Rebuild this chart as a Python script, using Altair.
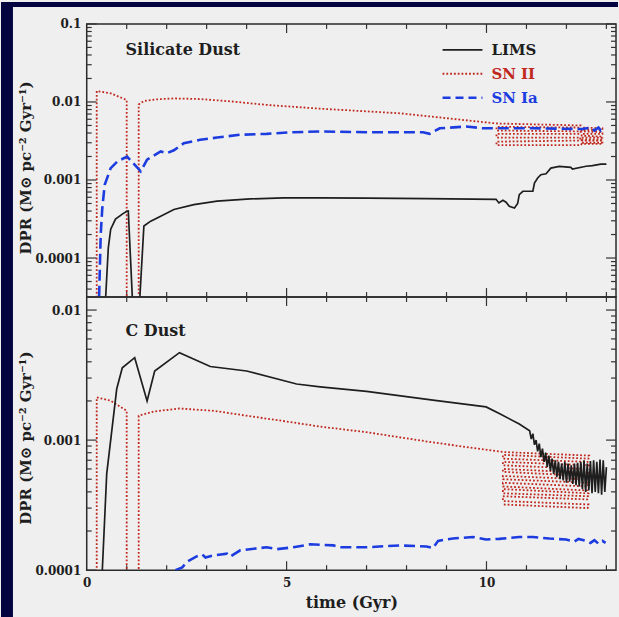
import altair as alt
import pandas as pd

# ---------------- data ----------------
# time axis ticks
time_labels = [0, 5, 10]
time_major = [5, 10]
time_minor = [1, 2, 3, 4, 6, 7, 8, 9, 11, 12, 13]

# Silicate dust panel
sil_labels = [0.0001, 0.001, 0.01, 0.1]
sil_minor = [4e-5, 5e-5, 6e-5, 7e-5, 8e-5, 9e-5,
             2e-4, 3e-4, 4e-4, 5e-4, 6e-4, 7e-4, 8e-4, 9e-4,
             2e-3, 3e-3, 4e-3, 5e-3, 6e-3, 7e-3, 8e-3, 9e-3,
             0.02, 0.03, 0.04, 0.05, 0.06, 0.07, 0.08, 0.09]

sil_lims_t = [0.475, 0.54, 0.60, 0.72, 0.89, 1.00, 1.04, 1.14, 1.15, 1.32, 1.33, 1.43, 1.60, 1.85,
              2.18, 2.68, 3.26, 4.09, 4.92, 5.84, 7.0, 8.5, 10.24, 10.31, 10.41, 10.49, 10.57, 10.70,
              10.78, 10.82, 10.91, 11.16, 11.20, 11.28, 11.36, 11.49, 11.61, 11.82, 12.11, 12.15,
              12.49, 12.65, 12.86, 13.0]
sil_lims_v = [3.2e-5, 1.35e-4, 2.34e-4, 3.15e-4, 3.65e-4, 3.98e-4, 4.0e-4, 3.2e-5, 1e-8, 1e-8,
              3.2e-5, 2.57e-4, 2.97e-4, 3.44e-4, 4.18e-4, 4.84e-4, 5.35e-4, 5.72e-4, 5.89e-4,
              5.89e-4, 5.85e-4, 5.78e-4, 5.65e-4, 5.08e-4, 5.5e-4, 5.2e-4, 4.61e-4, 4.38e-4, 5.0e-4,
              6.5e-4, 7.17e-4, 7.2e-4, 9.14e-4, 1.06e-3, 1.17e-3, 1.2e-3, 1.42e-3, 1.49e-3, 1.45e-3,
              1.38e-3, 1.5e-3, 1.53e-3, 1.6e-3, 1.6e-3]

sil_sn2_t = [0.25, 0.25, 0.60, 1.00, 1.00, 1.30, 1.30, 1.43, 1.76, 2.18, 2.84, 3.67, 4.50, 5.84, 7.83, 10.25,
             12.35, 12.33, 10.25, 10.25, 12.36, 12.34, 10.25, 10.25, 12.35, 12.33, 10.25, 10.25, 12.36,
             12.38, 12.90, 12.90, 12.38, 12.38, 12.90, 12.90, 12.38, 12.38, 12.90, 12.90, 12.38, 12.38,
             12.90, 12.90, 12.38, 12.38, 12.90, 12.90, 12.38]
sil_sn2_v = [1e-8, 0.0138, 0.0129, 0.0106, 1e-8, 1e-8, 0.0093, 0.0103, 0.0108, 0.0111, 0.0109, 0.0101,
             0.00916, 0.0082, 0.00716, 0.0053,
             0.0050, 0.0047, 0.0048, 0.0043, 0.0042, 0.0039, 0.0039, 0.0035, 0.0035, 0.0032, 0.0031,
             0.0028, 0.0028,
             0.0029, 0.0029, 0.0030, 0.0030, 0.0032, 0.0032, 0.0033, 0.0033, 0.0035, 0.0035, 0.0036,
             0.0037, 0.0039, 0.0039, 0.0041, 0.0042, 0.0044, 0.0044, 0.0046, 0.0047]

sil_sn1a_t = [0.31, 0.35, 0.39, 0.45, 0.60, 0.77, 1.01, 1.35, 1.51, 1.85, 2.0, 2.18, 2.43, 2.84, 3.26,
              3.84, 4.50, 5.17, 5.84, 7.0, 8.41, 8.58, 8.83, 9.49, 9.91, 11.16, 12.4, 12.6, 12.7, 12.8,
              12.86, 12.9]
sil_sn1a_v = [3.2e-5, 0.0002, 0.00044, 0.00087, 0.00142, 0.00173, 0.002, 0.00129, 0.00182, 0.00232,
              0.0022, 0.0024, 0.00296, 0.00327, 0.0035, 0.0038, 0.0039, 0.0041, 0.00418, 0.0041,
              0.0041, 0.0039, 0.0046, 0.00484, 0.0046, 0.0046, 0.0045, 0.0047, 0.0043, 0.0047,
              0.0043, 0.0045]

# C dust panel
c_labels = [0.0001, 0.001, 0.01]
c_minor = [2e-4, 3e-4, 4e-4, 5e-4, 6e-4, 7e-4, 8e-4, 9e-4,
           2e-3, 3e-3, 4e-3, 5e-3, 6e-3, 7e-3, 8e-3, 9e-3]

c_lims_t = [0.39, 0.50, 0.75, 0.89, 1.20, 1.51, 1.70, 2.32, 3.09, 4.00, 5.25, 5.84, 7.0, 8.66, 9.99,
            10.32, 10.82,
            11.08, 11.12, 11.16, 11.20, 11.24, 11.28, 11.32, 11.36, 11.40, 11.44, 11.48, 11.52, 11.56,
            11.60, 11.64, 11.68, 11.72, 11.76, 11.80, 11.84, 11.88, 11.92, 11.96, 12.00, 12.04, 12.08,
            12.12, 12.16, 12.20, 12.24, 12.28, 12.32, 12.36, 12.40, 12.44, 12.48, 12.52, 12.56, 12.60,
            12.64, 12.68, 12.72, 12.76, 12.80, 12.84, 12.88, 12.92, 12.96, 13.00]
c_lims_v = [1e-4, 0.00055, 0.00247, 0.0036, 0.0043, 0.002, 0.0034, 0.0047, 0.00368, 0.0034, 0.0027,
            0.00257, 0.00237, 0.00203, 0.0018, 0.0016, 0.00133,
            0.00118, 0.00102, 0.00112, 0.00092, 0.00100, 0.00082, 0.00094, 0.00074, 0.00086, 0.00068,
            0.00080, 0.00062, 0.00076, 0.00058, 0.00072, 0.00055, 0.00070, 0.00052, 0.00068, 0.00050,
            0.00066, 0.00049, 0.00068, 0.00047, 0.00066, 0.00048, 0.00064, 0.00046, 0.00066, 0.00045,
            0.00067, 0.00044, 0.00068, 0.00042, 0.00070, 0.00040, 0.00066, 0.00041, 0.00069, 0.00039,
            0.00070, 0.00040, 0.00068, 0.00039, 0.00071, 0.00038, 0.00070, 0.00040, 0.00062]

c_sn2_t = [0.25, 0.25, 0.60, 1.00, 1.00, 1.30, 1.30, 1.68, 2.32, 3.18, 4.00, 5.00, 5.84, 7.00, 8.66, 10.41,
           12.57, 12.55, 10.41, 10.41, 12.53, 12.56, 10.41, 10.41, 12.52, 12.55, 10.41, 10.41, 12.54,
           12.51, 10.41, 10.41, 12.55, 12.53, 10.41, 10.41, 12.52, 12.55, 10.41, 10.41, 12.54, 12.52,
           10.41, 10.41, 12.55, 12.53, 10.41]
c_sn2_v = [1e-8, 0.00213, 0.00201, 0.00168, 1e-8, 1e-8, 0.00154, 0.00166, 0.00175, 0.00168, 0.00154,
           0.00139, 0.00127, 0.00115, 0.00096, 0.00081,
           0.00076, 0.00072, 0.00077, 0.00072, 0.00068, 0.00064, 0.00068, 0.00064, 0.0006, 0.00056,
           0.0006, 0.00057, 0.00053, 0.0005, 0.00053, 0.0005, 0.00047, 0.00044, 0.00047, 0.00044,
           0.00041, 0.00039, 0.00042, 0.00039, 0.00037, 0.00035, 0.00037, 0.00034, 0.00032, 0.0003,
           0.00032]

c_sn1a_t = [2.22, 2.39, 2.51, 2.76, 2.89, 2.97, 3.18, 3.51, 3.59, 3.84, 4.25, 4.50, 4.75, 5.17, 5.59,
            6.17, 6.33, 7.0, 7.83, 8.5, 8.66, 8.79, 9.16, 9.66, 9.99, 10.32, 10.82, 11.16, 11.57, 11.99,
            12.2, 12.3, 12.49, 12.6, 12.7, 12.8, 12.9, 12.98]
c_sn1a_v = [1.0e-4, 1.05e-4, 1.16e-4, 1.28e-4, 1.32e-4, 1.25e-4, 1.30e-4, 1.34e-4, 1.27e-4, 1.42e-4,
            1.47e-4, 1.50e-4, 1.45e-4, 1.50e-4, 1.58e-4, 1.55e-4, 1.50e-4, 1.50e-4, 1.55e-4, 1.52e-4,
            1.48e-4, 1.68e-4, 1.75e-4, 1.80e-4, 1.72e-4, 1.74e-4, 1.80e-4, 1.80e-4, 1.75e-4, 1.72e-4,
            1.66e-4, 1.74e-4, 1.68e-4, 1.62e-4, 1.70e-4, 1.60e-4, 1.68e-4, 1.62e-4]

legend_names = ["LIMS", "SN II", "SN Ia"]

# ---------------- style ----------------
NAVY = "#03033f"
PANEL_BG = "#efefef"
INK = "#1e1e1e"
RED = "#c0281e"
BLUE = "#1c3ce0"
FONT = "DejaVu Serif"
W, H = 531, 274
XDOM = [0, 13.24]
SIL_DOM = [10 ** -4.5, 0.1]
C_DOM = [1e-4, 10 ** -1.9]
YTITLE = "DPR (M\u2299 pc\u207b\u00b2 Gyr\u207b\u00b9)"

STYLES = {
    "LIMS": dict(color=INK, dash=None, width=1.7),
    "SN II": dict(color=RED, dash=[1.8, 2.0], width=1.8),
    "SN Ia": dict(color=BLUE, dash=[11, 5], width=2.6),
}


def make_panel(dom, ylabels, yminor, series, show_x, title_y, name, name_y, legend, strips):
    xscale = alt.Scale(domain=XDOM, nice=False, zero=False)
    yscale = alt.Scale(type="log", domain=dom, nice=False)
    if show_x:
        xaxis = alt.Axis(values=time_labels, format="d", ticks=False, domain=False, grid=False,
                         labelPadding=7, labelFlush=False, labelFontSize=12,
                         title="time (Gyr)", titleFontSize=16, titlePadding=6)
    else:
        xaxis = alt.Axis(labels=False, ticks=False, domain=False, grid=False, title=None)
    yaxis = alt.Axis(values=ylabels, format="~g", ticks=False, domain=False, grid=False,
                     labelPadding=6, labelFontSize=12, title=YTITLE, titleFontSize=15,
                     titlePadding=1, titleY=title_y)

    def X(f):
        return alt.X(f, scale=xscale, axis=xaxis)

    def Y(f):
        return alt.Y(f, scale=yscale, axis=yaxis)

    layers = []
    if strips:
        one = pd.DataFrame({"k": [0]})
        layers.append(alt.Chart(one).mark_rect(color=NAVY, clip=False).encode(
            x=alt.value(-86), x2=alt.value(-74), y=alt.value(-22), y2=alt.value(595)))
        layers.append(alt.Chart(one).mark_rect(color=NAVY, clip=False).encode(
            x=alt.value(-86), x2=alt.value(533), y=alt.value(-22), y2=alt.value(-17)))

    # inward ticks
    tick_style = dict(color="#333", strokeWidth=1.2)
    for vals, ln in ((yminor, 5), (ylabels, 10)):
        d = pd.DataFrame({"v": vals})
        layers.append(alt.Chart(d).mark_rule(**tick_style).encode(
            y=Y("v:Q"), x=alt.value(0), x2=alt.value(ln)))
        layers.append(alt.Chart(d).mark_rule(**tick_style).encode(
            y=Y("v:Q"), x=alt.value(W - ln), x2=alt.value(W)))
    for vals, ln in ((time_minor, 5), (time_major, 9)):
        d = pd.DataFrame({"t": vals})
        layers.append(alt.Chart(d).mark_rule(**tick_style).encode(
            x=X("t:Q"), y=alt.value(H), y2=alt.value(H - ln)))
        layers.append(alt.Chart(d).mark_rule(**tick_style).encode(
            x=X("t:Q"), y=alt.value(0), y2=alt.value(ln)))

    for key, (t, v) in series:
        st = STYLES[key]
        d = pd.DataFrame({"t": t, "v": v, "i": list(range(len(t)))})
        enc = dict(x=X("t:Q"), y=Y("v:Q"), order=alt.Order("i:Q"),
                   color=alt.value(st["color"]), strokeWidth=alt.value(st["width"]))
        if st["dash"]:
            enc["strokeDash"] = alt.value(st["dash"])
        layers.append(alt.Chart(d).mark_line(clip=True, strokeCap="butt",
                                             strokeJoin="miter").encode(**enc))

    layers.append(alt.Chart(pd.DataFrame({"label": [name]})).mark_text(
        font=FONT, fontWeight="bold", fontSize=16, align="left", baseline="middle",
        color=INK).encode(text="label:N", x=alt.value(39), y=alt.value(name_y)))

    if legend:
        for k, (nm, ly) in enumerate(zip(legend_names, [26, 50, 74])):
            st = STYLES[nm]
            rk = dict(color=st["color"], strokeWidth=1.8 if nm != "SN Ia" else 2.4,
                      strokeCap="butt")
            if st["dash"]:
                rk["strokeDash"] = [1.8, 2.0] if nm == "SN II" else [8, 5]
            d = pd.DataFrame({"label": [nm]})
            layers.append(alt.Chart(d).mark_rule(**rk).encode(
                x=alt.value(357), x2=alt.value(397), y=alt.value(ly)))
            layers.append(alt.Chart(d).mark_text(
                font=FONT, fontWeight="bold", fontSize=15, align="left", baseline="middle",
                color=st["color"]).encode(text="label:N", x=alt.value(406), y=alt.value(ly)))

    return alt.layer(*layers).properties(width=W, height=H)


top = make_panel(SIL_DOM, sil_labels, sil_minor,
                 [("SN II", (sil_sn2_t, sil_sn2_v)),
                  ("SN Ia", (sil_sn1a_t, sil_sn1a_v)),
                  ("LIMS", (sil_lims_t, sil_lims_v))],
                 show_x=False, title_y=144, name="Silicate Dust", name_y=26,
                 legend=True, strips=True)
bottom = make_panel(C_DOM, c_labels, c_minor,
                    [("SN II", (c_sn2_t, c_sn2_v)),
                     ("SN Ia", (c_sn1a_t, c_sn1a_v)),
                     ("LIMS", (c_lims_t, c_lims_v))],
                    show_x=True, title_y=141, name="C Dust", name_y=34,
                    legend=False, strips=False)

chart = alt.vconcat(top, bottom, spacing=0, bounds="flush").properties(
    padding={"left": 0, "top": 0, "right": 0, "bottom": 0},
    background=PANEL_BG,
).configure_view(
    stroke="#2a2a2a", strokeWidth=1.5, fill=None
).configure_axis(
    labelFont=FONT, labelFontWeight="bold", labelColor=INK,
    titleFont=FONT, titleFontWeight="bold", titleColor=INK, zindex=1
)

chart.save("out.html", embed_options={"renderer": "svg", "actions": False})
